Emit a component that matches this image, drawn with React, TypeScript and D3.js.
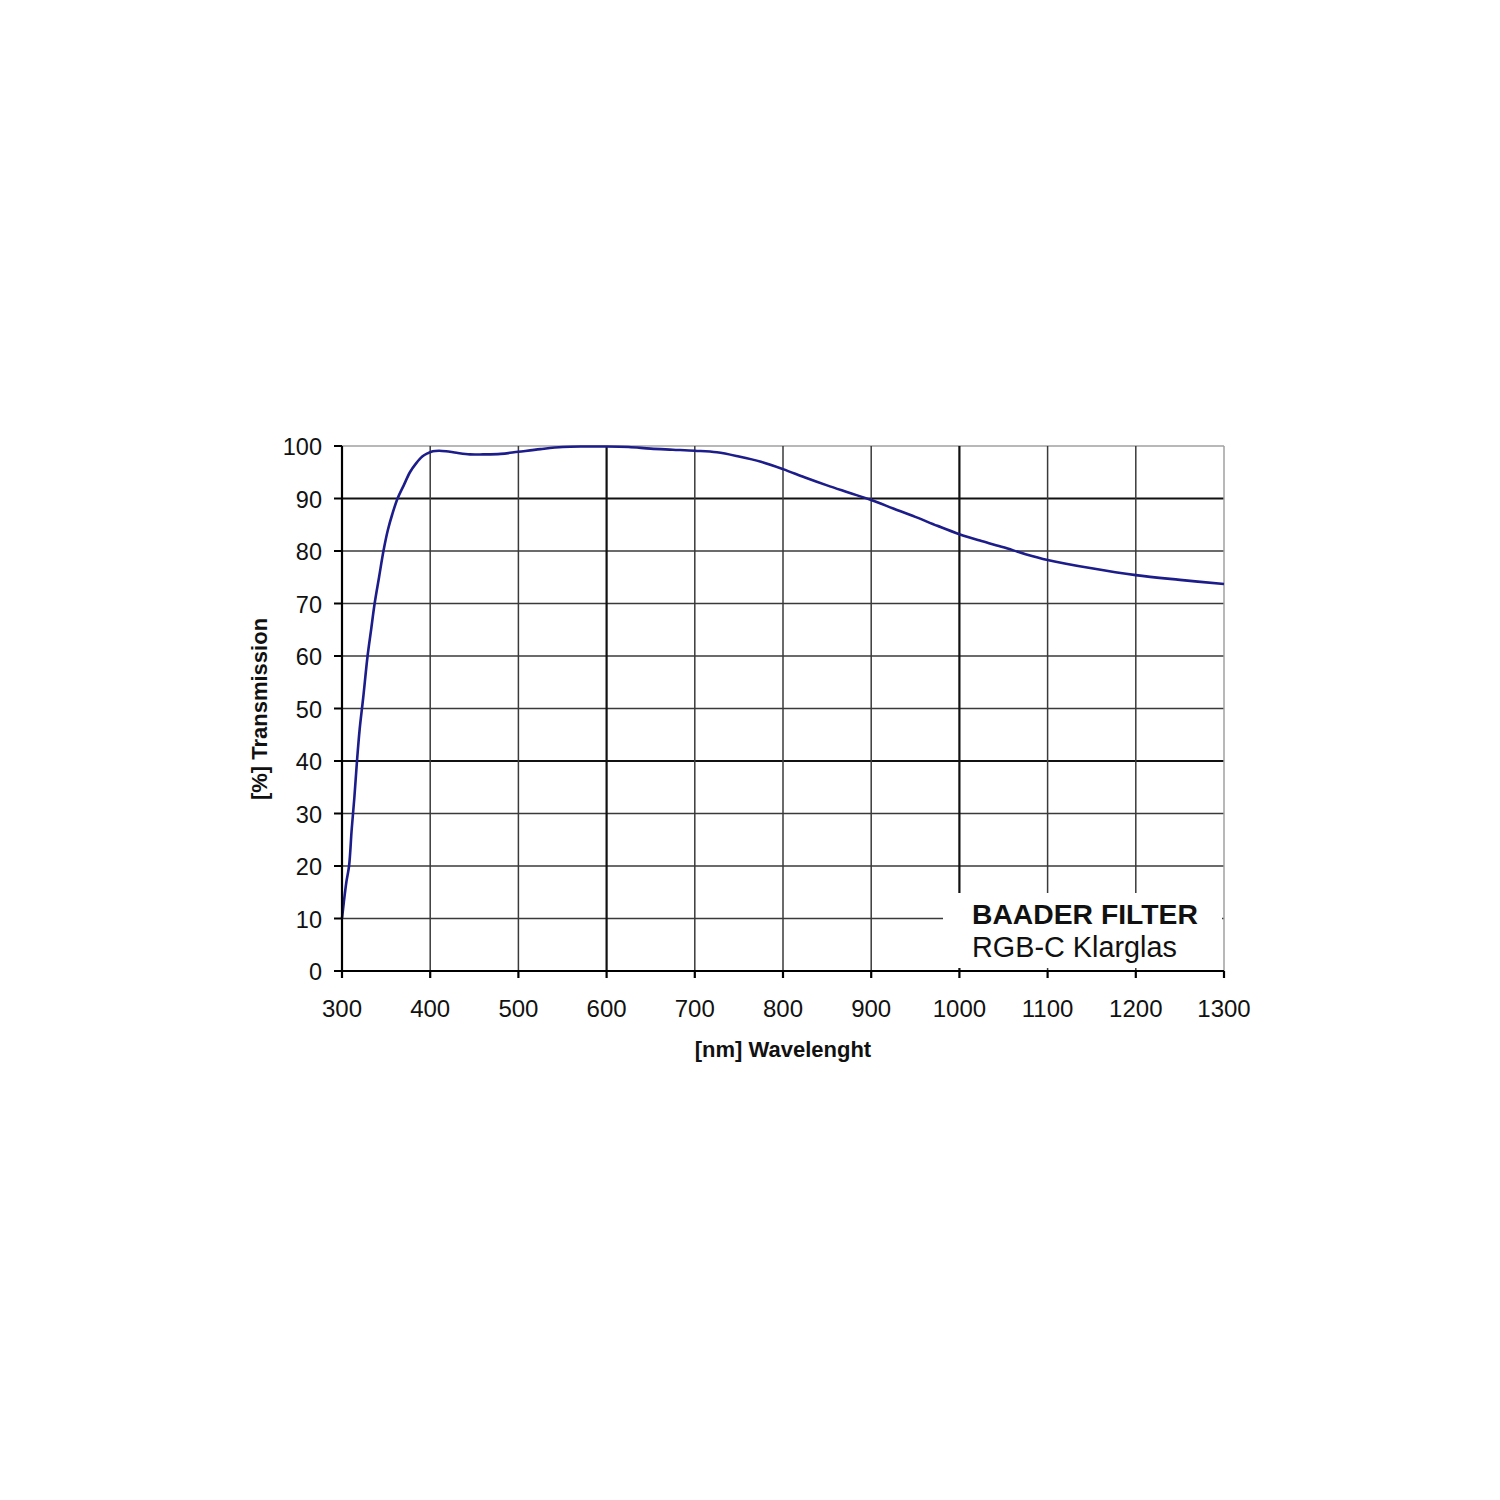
import { useEffect, useRef } from 'react';
import * as d3 from 'd3';

// Transmission curve
const wavelengths = [
    300, 302, 305, 308, 311, 314, 317, 320, 324, 329, 333, 337, 342, 347, 352, 357, 363, 370, 377, 384,
    391, 397, 403, 410, 418, 430, 445, 460, 480, 500, 525, 550, 575, 600, 625, 650, 675, 700, 725, 750,
    775, 800, 825, 850, 875, 900, 925, 950, 975, 1000, 1025, 1050, 1075, 1100, 1150, 1200, 1250, 1300,
];
const transmission = [
    10, 13, 17, 20, 27, 33, 40, 46, 52, 60, 65, 70, 75, 80, 84, 87, 90, 92.5, 95, 96.7,
    98, 98.6, 99, 99.1, 99, 98.7, 98.4, 98.4, 98.5, 98.9, 99.4, 99.8, 99.9, 99.9, 99.8, 99.5, 99.3, 99.1, 98.8, 98.0,
    97.0, 95.6, 94.0, 92.5, 91.1, 89.7, 88.1, 86.5, 84.8, 83.2, 81.9, 80.7, 79.4, 78.3, 76.7, 75.4, 74.5, 73.7,
];

const xTicks = [300, 400, 500, 600, 700, 800, 900, 1000, 1100, 1200, 1300];
const yTicks = [0, 10, 20, 30, 40, 50, 60, 70, 80, 90, 100];
const boldX = [600, 1000];
const boldY = [40, 90];

const legendTitle = 'BAADER FILTER';
const legendSub = 'RGB-C Klarglas';
const xTitle = '[nm] Wavelenght';
const yTitle = '[%] Transmission';

export default function App() {
    const svgRef = useRef<SVGSVGElement>(null);
    const width = 1500;
    const height = 1500;

    useEffect(() => {
        if (!svgRef.current) return;
        d3.select(svgRef.current).selectAll('*').remove();

        const svg = d3.select(svgRef.current);
        const font = '"Liberation Sans", Arial, Helvetica, sans-serif';

        const x = d3.scaleLinear().domain([300, 1300]).range([342, 1224]);
        const y = d3.scaleLinear().domain([0, 100]).range([971, 446]);

        svg.append('rect').attr('width', width).attr('height', height).attr('fill', '#fff');

        // Horizontal grid
        yTicks.slice(1).forEach((t) => {
            const top = t === 100;
            const bold = boldY.includes(t);
            svg
                .append('line')
                .attr('x1', x(300))
                .attr('x2', x(1300))
                .attr('y1', y(t))
                .attr('y2', y(t))
                .attr('stroke', top ? '#a0a0a0' : bold ? '#111' : '#3a3a3a')
                .attr('stroke-width', bold ? 2.2 : 1.5);
        });

        // Vertical grid
        xTicks.slice(1, -1).forEach((t) => {
            const bold = boldX.includes(t);
            svg
                .append('line')
                .attr('x1', x(t))
                .attr('x2', x(t))
                .attr('y1', y(100))
                .attr('y2', y(0))
                .attr('stroke', bold ? '#111' : '#3a3a3a')
                .attr('stroke-width', bold ? 2.2 : 1.5);
        });

        // Legend box covers grid
        svg
            .append('rect')
            .attr('x', 943)
            .attr('y', 893)
            .attr('width', 279)
            .attr('height', 75)
            .attr('fill', '#fff');

        // Right border
        svg
            .append('line')
            .attr('x1', x(1300))
            .attr('x2', x(1300))
            .attr('y1', y(100))
            .attr('y2', y(0))
            .attr('stroke', '#a0a0a0')
            .attr('stroke-width', 1.5);

        // Curve
        const points = wavelengths.map((w, i) => [w, transmission[i]] as [number, number]);
        const line = d3
            .line<[number, number]>()
            .x((d) => x(d[0]))
            .y((d) => y(d[1]))
            .curve(d3.curveCatmullRom.alpha(0.5));
        svg
            .append('path')
            .datum(points)
            .attr('d', line)
            .attr('fill', 'none')
            .attr('stroke', '#1c1c8a')
            .attr('stroke-width', 2.6);

        // Axes
        svg
            .append('line')
            .attr('x1', x(300))
            .attr('x2', x(300))
            .attr('y1', y(100))
            .attr('y2', y(0))
            .attr('stroke', '#000')
            .attr('stroke-width', 2.2);
        svg
            .append('line')
            .attr('x1', x(300))
            .attr('x2', x(1300))
            .attr('y1', y(0))
            .attr('y2', y(0))
            .attr('stroke', '#000')
            .attr('stroke-width', 2.2);

        yTicks.forEach((t) => {
            svg
                .append('line')
                .attr('x1', x(300) - 8)
                .attr('x2', x(300))
                .attr('y1', y(t))
                .attr('y2', y(t))
                .attr('stroke', '#000')
                .attr('stroke-width', 2);
            svg
                .append('text')
                .attr('x', 322)
                .attr('y', y(t))
                .attr('dy', '0.4em')
                .attr('text-anchor', 'end')
                .attr('font-family', font)
                .attr('font-size', '23.5px')
                .attr('fill', '#111')
                .text(t);
        });

        xTicks.forEach((t) => {
            svg
                .append('line')
                .attr('x1', x(t))
                .attr('x2', x(t))
                .attr('y1', y(0))
                .attr('y2', y(0) + 7)
                .attr('stroke', '#000')
                .attr('stroke-width', 2.2);
            svg
                .append('text')
                .attr('x', x(t))
                .attr('y', 1017)
                .attr('text-anchor', 'middle')
                .attr('font-family', font)
                .attr('font-size', '24px')
                .attr('fill', '#111')
                .text(t);
        });

        // Axis titles
        svg
            .append('text')
            .attr('x', 783)
            .attr('y', 1057)
            .attr('text-anchor', 'middle')
            .attr('font-family', font)
            .attr('font-size', '22px')
            .attr('font-weight', 'bold')
            .attr('fill', '#111')
            .text(xTitle);
        svg
            .append('text')
            .attr('transform', 'translate(267, 709) rotate(-90)')
            .attr('text-anchor', 'middle')
            .attr('font-family', font)
            .attr('font-size', '22px')
            .attr('font-weight', 'bold')
            .attr('fill', '#111')
            .text(yTitle);

        // Legend
        svg
            .append('text')
            .attr('x', 972)
            .attr('y', 924)
            .attr('font-family', font)
            .attr('font-size', '28.3px')
            .attr('font-weight', 'bold')
            .attr('fill', '#111')
            .text(legendTitle);
        svg
            .append('text')
            .attr('x', 972)
            .attr('y', 957)
            .attr('font-family', font)
            .attr('font-size', '28.8px')
            .attr('fill', '#111')
            .text(legendSub);
    }, []);

    return (
        <div style={{ position: 'absolute', left: 0, top: 0 }}>
            <svg ref={svgRef} width={width} height={height}></svg>
        </div>
    );
}
